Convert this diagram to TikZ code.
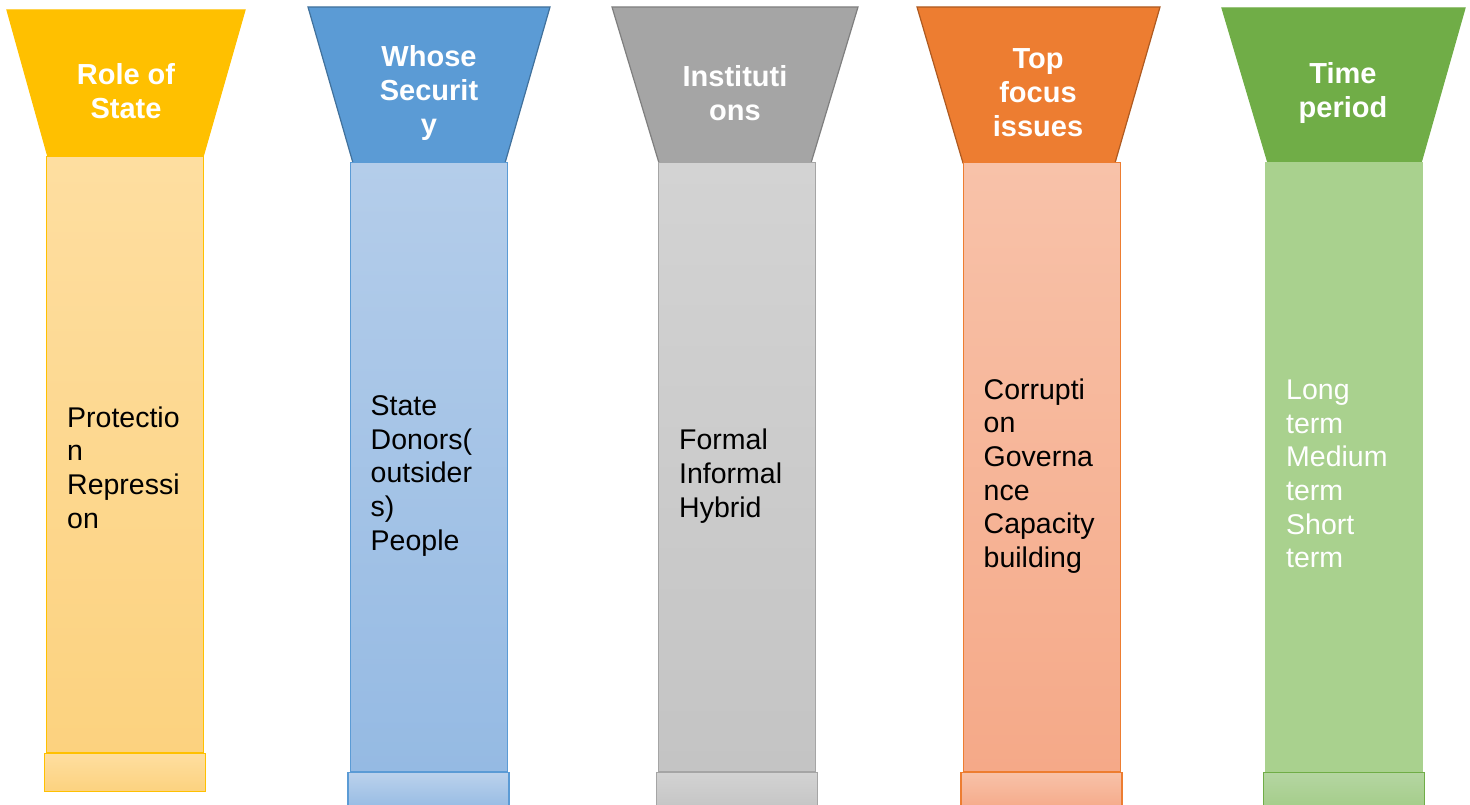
\documentclass[tikz,border=0pt]{standalone}
\usepackage{fontspec}
\setmainfont{Liberation Sans}
\usepackage{tikz}
\usetikzlibrary{positioning}

% header colours
\definecolor{goldHead}{HTML}{FFC000}
\definecolor{blueHead}{HTML}{5B9BD5}
\definecolor{blueLine}{HTML}{41719C}
\definecolor{greyHead}{HTML}{A5A5A5}
\definecolor{greyLine}{HTML}{7F7F7F}
\definecolor{orangeHead}{HTML}{ED7D31}
\definecolor{orangeLine}{HTML}{AE5A21}
\definecolor{greenHead}{HTML}{70AD47}
% column colours
\definecolor{goldTop}{HTML}{FEDEA0}
\definecolor{goldBot}{HTML}{FCD27F}
\definecolor{blueTop}{HTML}{B4CDEA}
\definecolor{blueBot}{HTML}{95BAE3}
\definecolor{greyTop}{HTML}{D3D3D3}
\definecolor{greyBot}{HTML}{C4C4C4}
\definecolor{orangeTop}{HTML}{F8C2A9}
\definecolor{orangeBot}{HTML}{F5A988}
\definecolor{greenBody}{HTML}{A9D18E}
\definecolor{greenTop}{HTML}{B5D6A2}
\definecolor{greenBot}{HTML}{A3CC88}

\begin{document}
\begin{tikzpicture}[
    x=1pt, y=-1pt,
    head/.style={line width=1.2pt, line join=miter},
    title/.style={text=white, align=center, inner sep=0pt,
      font=\bfseries\fontsize{29pt}{34pt}\selectfont},
    body/.style={draw, line width=1pt, minimum width=157pt, minimum height=608pt},
    bodytext/.style={anchor=west, yshift=-9pt, inner xsep=21pt, inner ysep=0pt,
      align=left, font=\fontsize{28.5pt}{33.7pt}\selectfont},
    base/.style={draw, line width=1.2pt, minimum width=161pt, minimum height=38pt}
  ]

  \useasboundingbox (0,0) rectangle (1470,805);

  % Role of State
  \path[head, fill=goldHead, draw=goldHead]
    (7,10) -- (245,10) -- (203,157) -- (48,157) -- cycle;
  \node[body, draw=goldHead, top color=goldTop, bottom color=goldBot,
    minimum height=595pt] (rolebody) at (125,454.5) {};
  \node[title] (rolehead) at (126,91.5) {Role of\\State};
  \node[bodytext, yshift=-4pt] (roletext) at (rolebody.west)
    {Protectio\\n\\Repressi\\on};
  \node[base, draw=goldHead, top color=goldTop, bottom color=goldBot,
    below=0pt of rolebody] (rolebase) {};

  % Whose Security
  \path[head, fill=blueHead, draw=blueLine]
    (308,7) -- (550,7) -- (505,163) -- (353,163) -- cycle;
  \node[body, draw=blueHead, top color=blueTop, bottom color=blueBot]
    (whosebody) at (428.5,467) {};
  \node[title] (whosehead) at (429,93) {Whose\\Securit\\y};
  \node[bodytext] (whosetext) at (whosebody.west)
    {State\\Donors(\\outsider\\s)\\People};
  \node[base, draw=blueHead, top color=blueTop!90!white, bottom color=blueBot,
    below=0pt of whosebody] (whosebase) {};

  % Institutions
  \path[head, fill=greyHead, draw=greyLine]
    (612,7) -- (858,7) -- (811,163) -- (659,163) -- cycle;
  \node[body, draw=greyHead, top color=greyTop, bottom color=greyBot]
    (instbody) at (737,467) {};
  \node[title] (insthead) at (735,93) {Instituti\\ons};
  \node[bodytext] (insttext) at (instbody.west) {Formal\\Informal\\Hybrid};
  \node[base, draw=greyHead, top color=greyTop, bottom color=greyBot,
    below=0pt of instbody] (instbase) {};

  % Top focus issues
  \path[head, fill=orangeHead, draw=orangeLine]
    (917,7) -- (1160,7) -- (1115,163) -- (963,163) -- cycle;
  \node[body, draw=orangeHead, top color=orangeTop, bottom color=orangeBot]
    (focusbody) at (1041.5,467) {};
  \node[title] (focushead) at (1038,93) {Top\\focus\\issues};
  \node[bodytext] (focustext) at (focusbody.west)
    {Corrupti\\on\\Governa\\nce\\Capacity\\building};
  \node[base, draw=orangeHead, top color=orangeTop, bottom color=orangeBot,
    below=0pt of focusbody] (focusbase) {};

  % Time period
  \path[head, fill=greenHead, draw=greenHead]
    (1222,8) -- (1465,8) -- (1421,163) -- (1268,163) -- cycle;
  \node[body, draw=greenBody, fill=greenBody] (timebody) at (1344,467) {};
  \node[title] (timehead) at (1343,93) {Time\\period};
  \node[bodytext, text=white, yshift=2pt] (timetext) at (timebody.west)
    {Long\\term\\Medium\\term\\Short\\term};
  \node[base, draw=greenHead, top color=greenTop, bottom color=greenBot,
    below=0pt of timebody] (timebase) {};

\end{tikzpicture}
\end{document}
